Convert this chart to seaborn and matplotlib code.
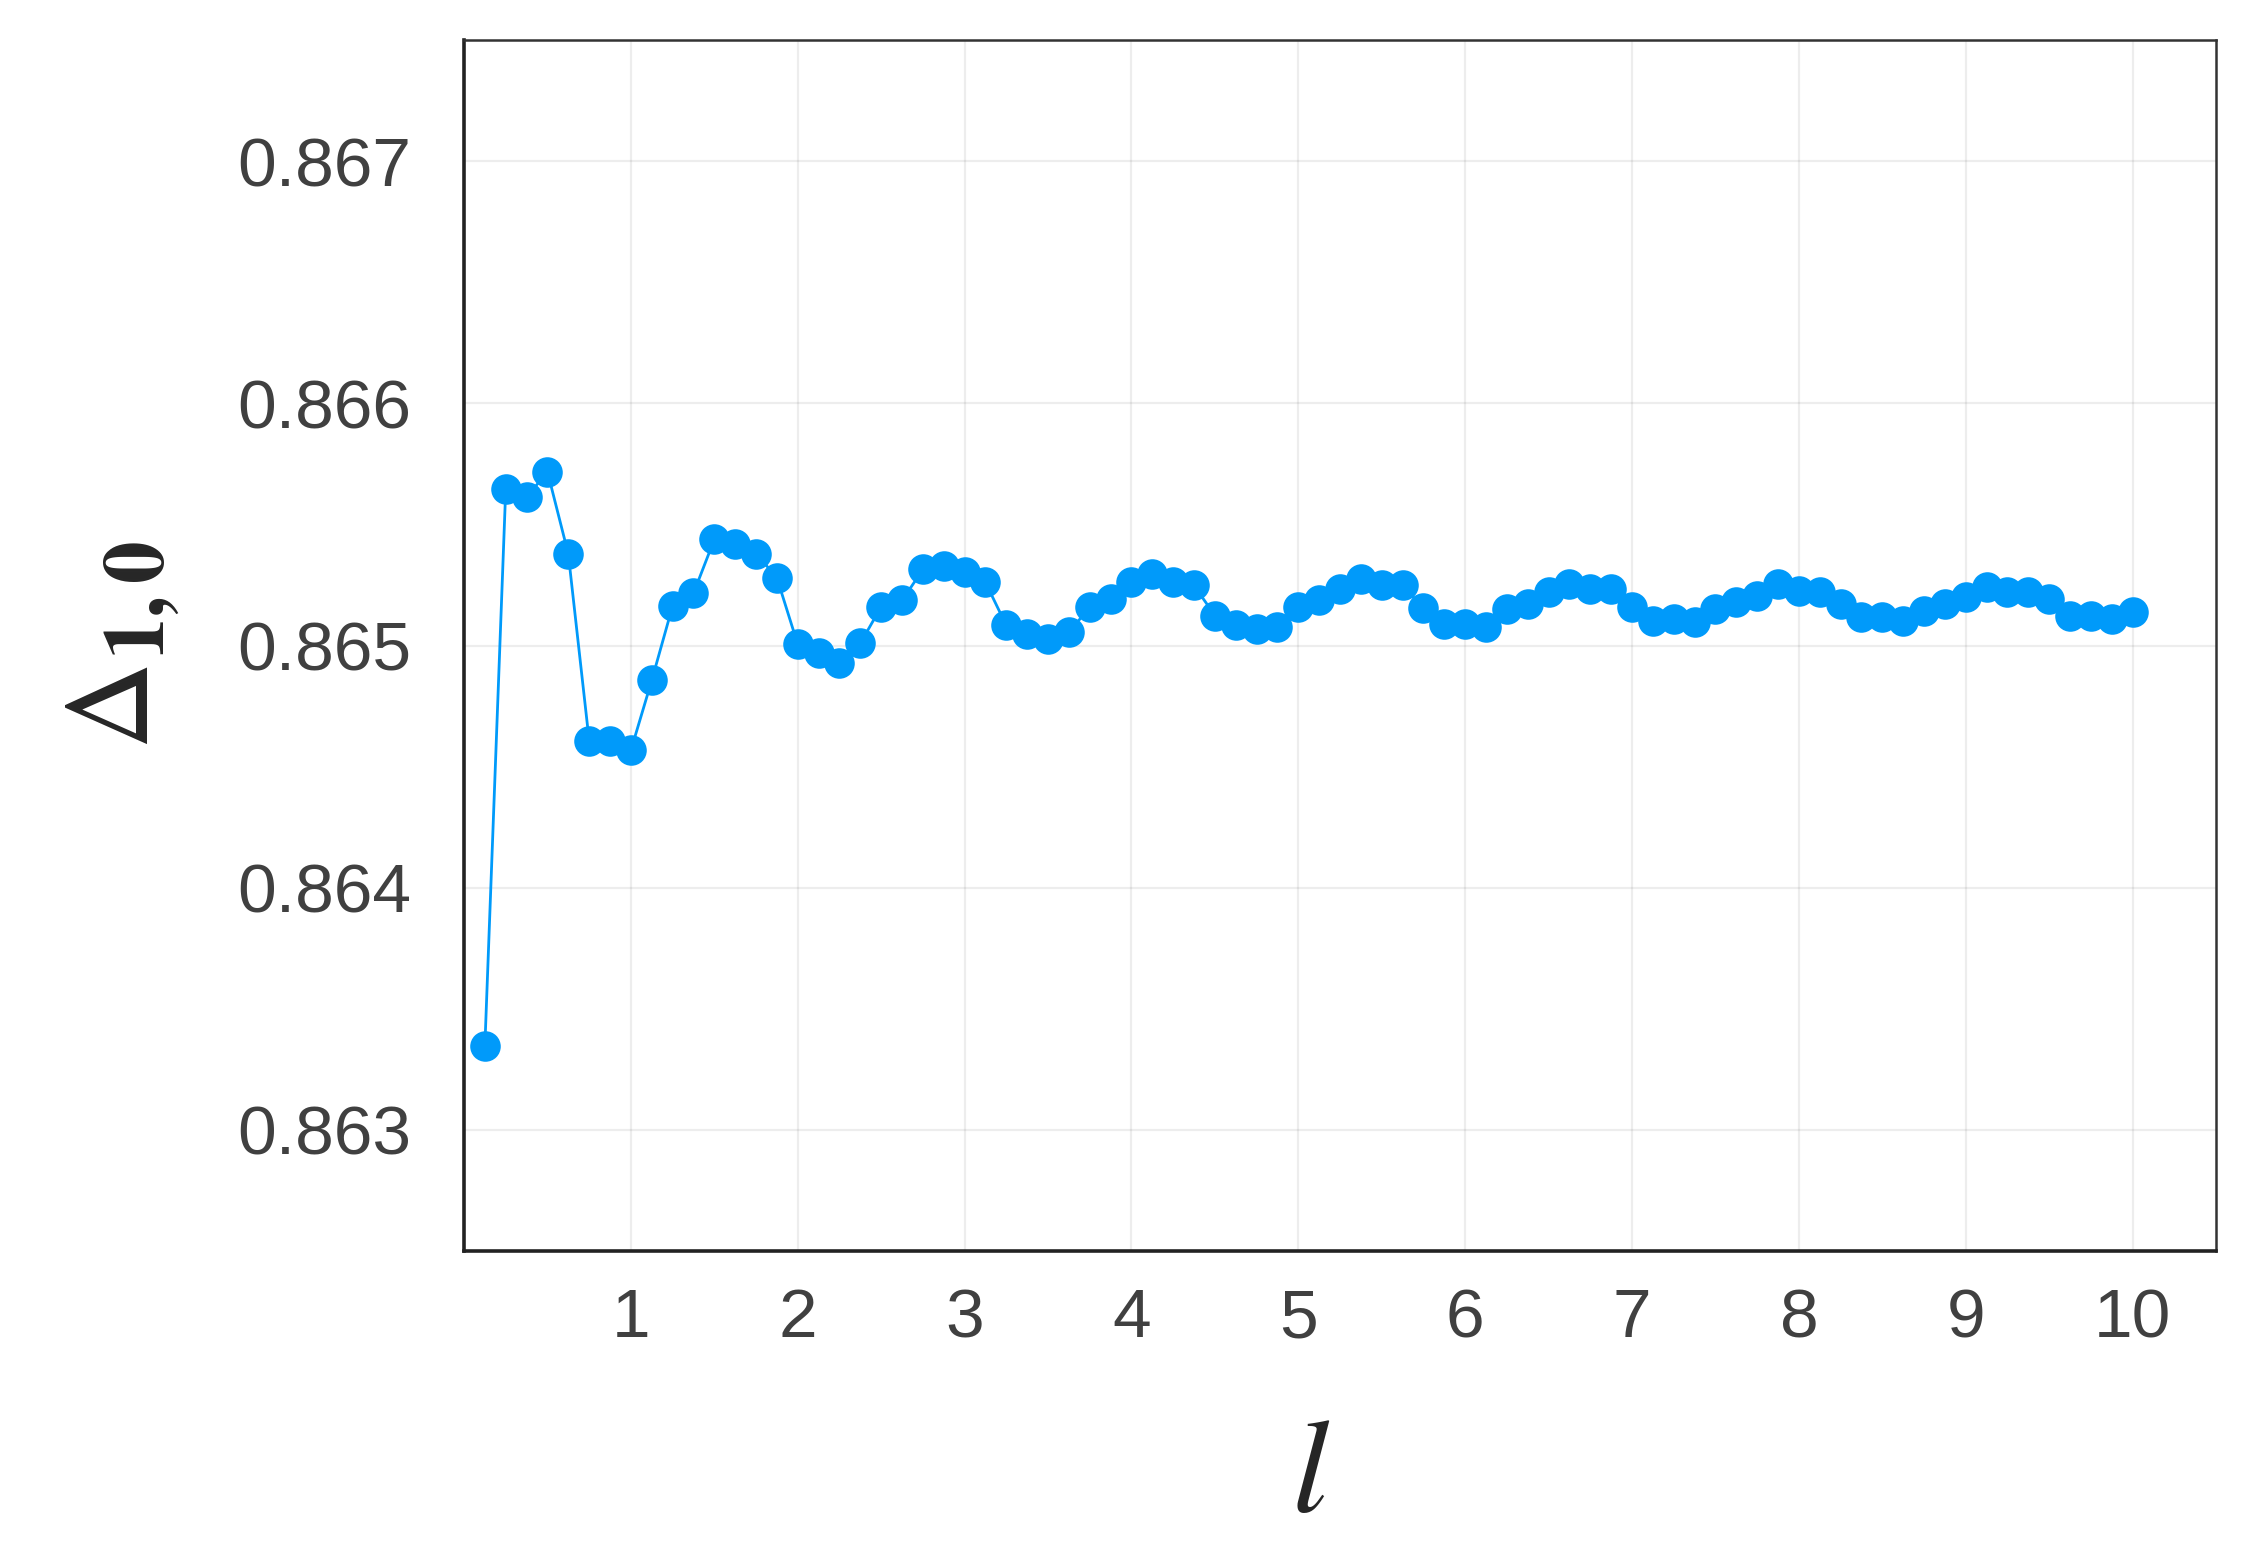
import numpy as np
import matplotlib
matplotlib.use("Agg")
import matplotlib.pyplot as plt
import seaborn as sns

# l runs from 1/8 to 10 in steps of 1/8
l_vals = np.arange(1, 81) / 8

delta_10 = [
    0.863347, 0.865646, 0.865612, 0.865718, 0.865378, 0.864607, 0.864605, 0.864567,
    0.864856, 0.865163, 0.865215, 0.865438, 0.865418, 0.865380, 0.865280, 0.865005,
    0.864971, 0.864928, 0.865009, 0.865160, 0.865186, 0.865314, 0.865330, 0.865303,
    0.865261, 0.865083, 0.865048, 0.865025, 0.865055, 0.865158, 0.865193, 0.865261,
    0.865296, 0.865261, 0.865248, 0.865124, 0.865083, 0.865069, 0.865076, 0.865158,
    0.865186, 0.865234, 0.865275, 0.865248, 0.865248, 0.865155, 0.865090, 0.865089,
    0.865076, 0.865151, 0.865172, 0.865220, 0.865254, 0.865234, 0.865234, 0.865158,
    0.865103, 0.865110, 0.865096, 0.865151, 0.865179, 0.865206, 0.865254, 0.865227,
    0.865220, 0.865170, 0.865117, 0.865117, 0.865103, 0.865144, 0.865172, 0.865199,
    0.865241, 0.865220, 0.865220, 0.865193, 0.865124, 0.865124, 0.865110, 0.865138,
]

x_ticks = list(range(1, 11))
y_ticks = [0.863, 0.864, 0.865, 0.866, 0.867]
y_tick_labels = ["0.863", "0.864", "0.865", "0.866", "0.867"]

sns.set_theme(style="white")
plt.rcParams["font.family"] = ["Liberation Sans", "DejaVu Sans"]
plt.rcParams["mathtext.fontset"] = "stix"

fig = plt.figure(figsize=(11.29, 7.82), dpi=200)
ax = fig.add_axes([0.2055, 0.2001, 0.9814 - 0.2055, 0.9744 - 0.2001])

sns.lineplot(x=l_vals, y=delta_10, ax=ax, color="#009AFA", linewidth=1.0,
             marker="o", markersize=11, markeredgewidth=0)

ax.set_xlim(0.0, 10.5)
ax.set_ylim(0.8625, 0.8675)
ax.set_xticks(x_ticks)
ax.set_yticks(y_ticks)
ax.set_yticklabels(y_tick_labels)

ax.grid(True, color="black", alpha=0.07, linewidth=0.8)
ax.tick_params(axis="both", direction="in", length=4.5, width=0.8, colors="black",
               labelcolor="#404040", labelsize=25)
ax.tick_params(axis="y", pad=19)
ax.tick_params(axis="x", pad=13)
for side in ["left", "bottom"]:
    ax.spines[side].set_color("#222222")
    ax.spines[side].set_linewidth(1.3)
for side in ["top", "right"]:
    ax.spines[side].set_color("#333333")
    ax.spines[side].set_linewidth(0.9)

ax.set_xlabel(r"$l$", fontsize=48)
ax.xaxis.set_label_coords(0.483, -0.135)
ax.set_ylabel(r"$\Delta_{\mathbf{1,0}}$", fontsize=44, labelpad=20)

fig.savefig("out.png", dpi=200)
